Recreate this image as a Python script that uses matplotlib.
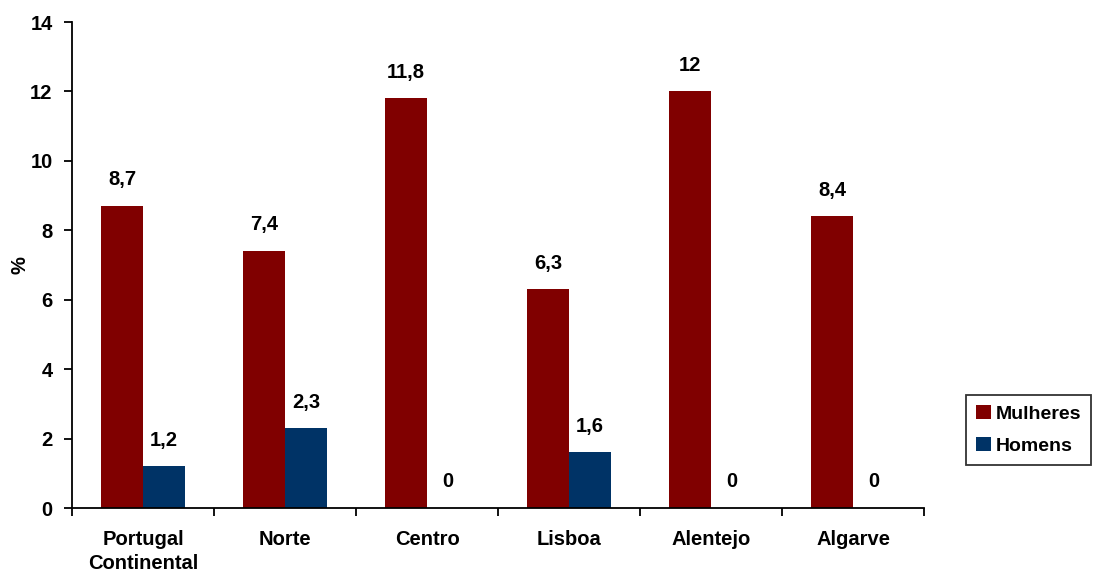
import numpy as np
import matplotlib
matplotlib.use("Agg")
import matplotlib.pyplot as plt

plt.rcParams["font.family"] = ["Liberation Sans", "DejaVu Sans"]
plt.rcParams["font.weight"] = "bold"

regions = ["Portugal\nContinental", "Norte", "Centro", "Lisboa", "Alentejo", "Algarve"]
mulheres = [8.7, 7.4, 11.8, 6.3, 12, 8.4]
homens = [1.2, 2.3, 0, 1.6, 0, 0]
RED = "#800000"; BLUE = "#003366"
FS = 14.5

fig = plt.figure(figsize=(10.93, 5.79), dpi=100)
ax = fig.add_axes([0.0659, 0.1226, 0.7795, 0.8394])
x = np.arange(len(regions))
w = 0.295
b1 = ax.bar(x - w/2, mulheres, w, color=RED, label="Mulheres")
b2 = ax.bar(x + w/2, homens, w, color=BLUE, label="Homens")
for bars, vals in [(b1, mulheres), (b2, homens)]:
    for r, v in zip(bars, vals):
        ax.annotate(f"{v:g}".replace(".", ","), (r.get_x() + r.get_width()/2, v),
                    xytext=(0, 12), textcoords="offset points", ha="center", va="bottom",
                    fontsize=FS, fontweight="bold")

ax.set_xlim(-0.5, len(regions) - 0.5)
ax.set_ylim(0, 14)
ax.set_yticks(range(0, 15, 2))
ax.set_xticks(np.arange(len(regions) + 1) - 0.5)
ax.set_xticklabels([])
ax.set_xticks(x, minor=True)
ax.set_xticklabels(regions, minor=True, fontsize=FS, fontweight="bold", linespacing=1.3)
ax.tick_params(axis="x", which="minor", length=0, pad=16)
ax.tick_params(axis="x", which="major", length=6, width=1.3, direction="out")
ax.tick_params(axis="y", length=6, width=1.3, labelsize=FS, pad=8)
for lab in ax.get_yticklabels():
    lab.set_fontweight("bold")
ax.set_ylabel("%", fontsize=FS, fontweight="bold")
ax.yaxis.set_label_coords(-0.05, 0.5)
for s in ["top", "right"]:
    ax.spines[s].set_visible(False)
for s in ["left", "bottom"]:
    ax.spines[s].set_linewidth(1.3)

leg = fig.legend(loc="upper left", bbox_to_anchor=(0.884, 0.318), fontsize=14,
                 frameon=True, fancybox=False, edgecolor="black", handlelength=0.75,
                 handleheight=0.75, handletextpad=0.25, borderpad=0.5, labelspacing=0.75,
                 borderaxespad=0)
leg.get_frame().set_linewidth(1.3)

fig.savefig("out.png", dpi=100)
